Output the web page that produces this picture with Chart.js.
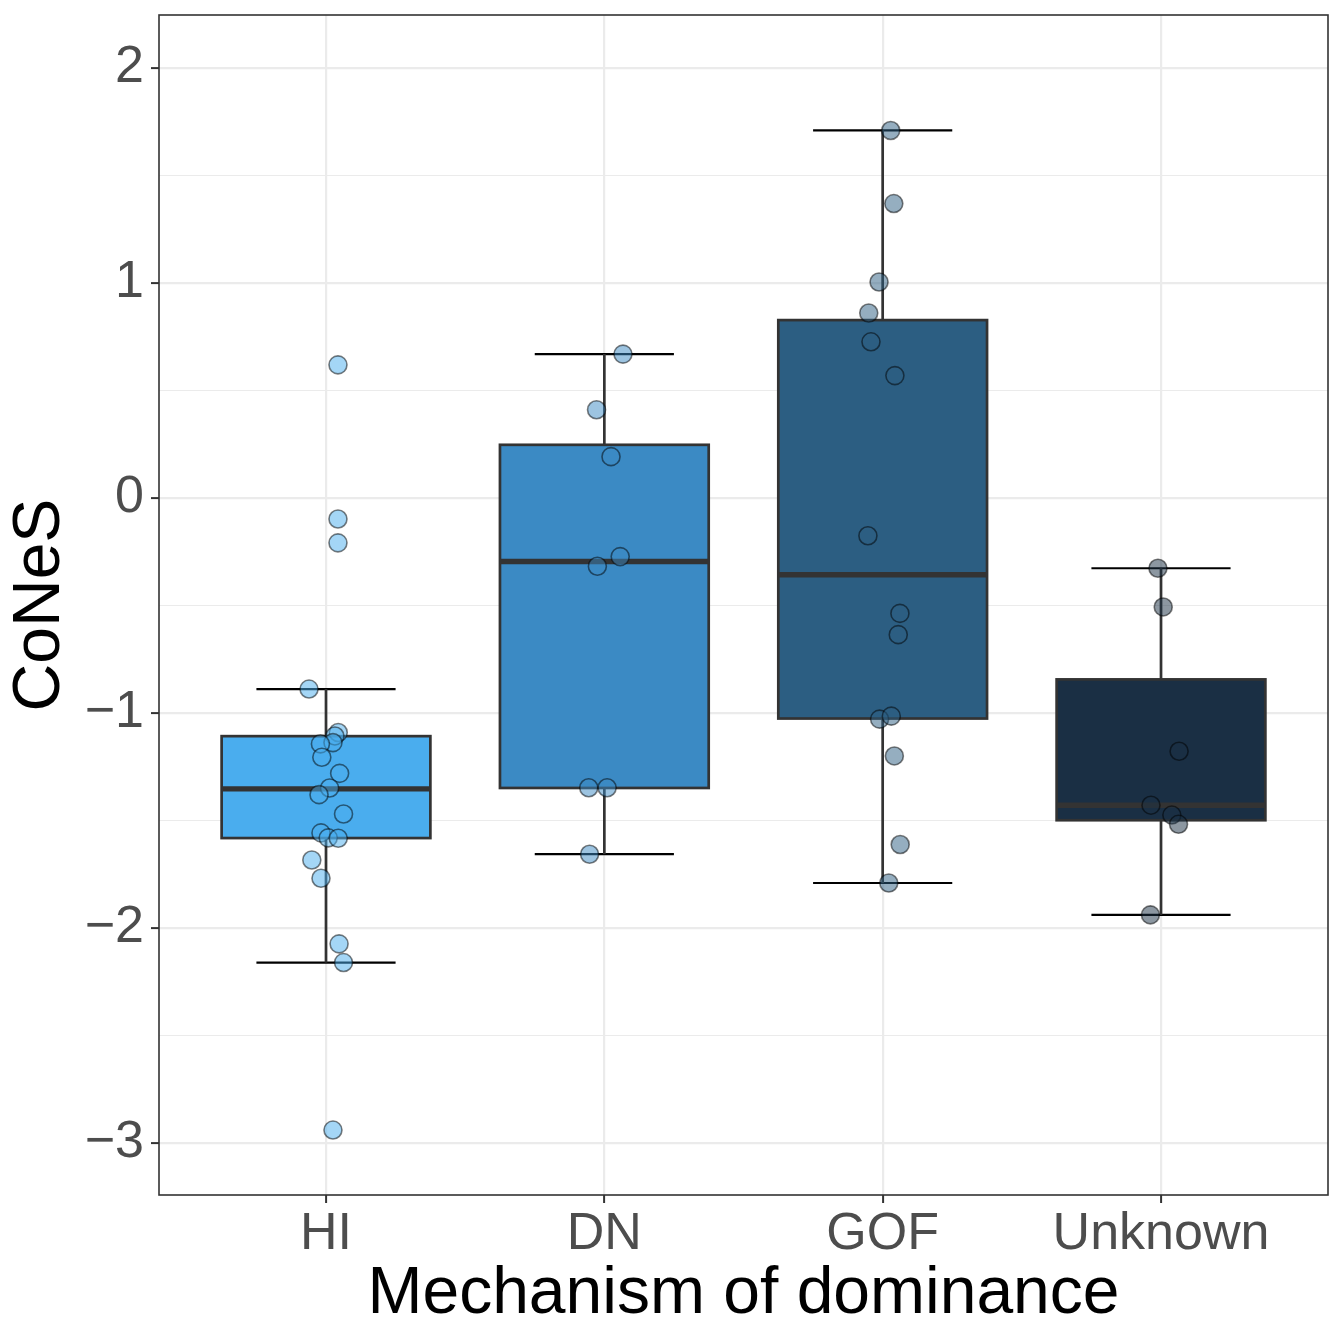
<!DOCTYPE html>
<html lang="en">
<head>
<meta charset="UTF-8">
<title>CoNeS by mechanism of dominance</title>
<script src="https://cdn.jsdelivr.net/npm/chart.js@4.4.1/dist/chart.umd.min.js"></script>
<style>
  html, body { margin: 0; padding: 0; background: #ffffff; }
  #wrap { width: 1333px; height: 1325px; position: relative; }
</style>
</head>
<body>
<div id="wrap"><canvas id="cones" width="1333" height="1325"></canvas></div>
<script>
// groups
const categories = ['HI', 'DN', 'GOF', 'Unknown'];
const boxColors = ['#4AADEE', '#3B8AC4', '#2C5E82', '#1A2F44'];
const pointColors = ['rgba(74,173,238,0.5)', 'rgba(59,138,196,0.5)', 'rgba(44,94,130,0.5)', 'rgba(26,47,68,0.5)'];

// box statistics
const whiskerHigh = [-0.889, 0.669, 1.709, -0.327];
const q3 = [-1.108, 0.247, 0.827, -0.844];
const median = [-1.353, -0.296, -0.357, -1.429];
const q1 = [-1.582, -1.349, -1.026, -1.499];
const whiskerLow = [-2.161, -1.657, -1.791, -1.939];

// jittered observations: value + horizontal jitter in category units
const hiValues = [0.619, -0.098, -0.209, -0.889, -1.091, -1.107, -1.138, -1.144, -1.206, -1.281, -1.349,
                  -1.380, -1.470, -1.558, -1.581, -1.583, -1.684, -1.769, -2.074, -2.161, -2.940];
const hiJitter = [0.043, 0.043, 0.043, -0.061, 0.044, 0.032, 0.025, -0.020, -0.015, 0.049, 0.013,
                  -0.025, 0.063, -0.018, 0.008, 0.044, -0.051, -0.018, 0.047, 0.063, 0.025];
const dnValues = [0.669, 0.410, 0.192, -0.273, -0.318, -1.348, -1.348, -1.657];
const dnJitter = [0.067, -0.028, 0.024, 0.057, -0.025, -0.056, 0.010, -0.053];
const gofValues = [1.709, 1.369, 1.004, 0.860, 0.726, 0.569, -0.176, -0.537, -0.636, -1.029, -1.015, -1.200, -1.612, -1.791];
const gofJitter = [0.029, 0.040, -0.013, -0.050, -0.042, 0.044, -0.053, 0.062, 0.056, -0.011, 0.031, 0.042, 0.063, 0.022];
const unkValues = [-0.327, -0.507, -1.178, -1.429, -1.475, -1.518, -1.939];
const unkJitter = [-0.011, 0.008, 0.065, -0.036, 0.039, 0.063, -0.038];

const groupValues = [hiValues, dnValues, gofValues, unkValues];
const groupJitter = [hiJitter, dnJitter, gofJitter, unkJitter];

// axes
const yMajorTicks = [-3, -2, -1, 0, 1, 2];
const yMinorTicks = [-2.5, -1.5, -0.5, 0.5, 1.5];
const yMin = -3.242, yMax = 2.246;
const xMin = 0.4, xMax = 4.6;

const FONT = '"Liberation Sans", Arial, Helvetica, sans-serif';

function line(ctx, x1, y1, x2, y2) {
    ctx.beginPath();
    ctx.moveTo(x1, y1);
    ctx.lineTo(x2, y2);
    ctx.stroke();
}

const boxPlugin = {
    id: 'boxes',
    beforeDatasetsDraw(chart) {
        const { ctx, scales: { x, y } } = chart;
        ctx.save();
        categories.forEach((c, i) => {
            const cx = x.getPixelForValue(i + 1);
            const half = x.getPixelForValue(i + 1.375) - cx;
            const cap = x.getPixelForValue(i + 1.25) - cx;
            const yHi = y.getPixelForValue(whiskerHigh[i]);
            const yQ3 = y.getPixelForValue(q3[i]);
            const yMed = y.getPixelForValue(median[i]);
            const yQ1 = y.getPixelForValue(q1[i]);
            const yLo = y.getPixelForValue(whiskerLow[i]);

            // error bar caps
            ctx.strokeStyle = '#000000';
            ctx.lineWidth = 2.2;
            line(ctx, cx - cap, yHi, cx + cap, yHi);
            line(ctx, cx - cap, yLo, cx + cap, yLo);

            // whiskers
            ctx.strokeStyle = '#333333';
            ctx.lineWidth = 2.7;
            line(ctx, cx, yHi, cx, yQ3);
            line(ctx, cx, yQ1, cx, yLo);

            // box
            ctx.fillStyle = boxColors[i];
            ctx.fillRect(cx - half, yQ3, half * 2, yQ1 - yQ3);
            ctx.strokeRect(cx - half, yQ3, half * 2, yQ1 - yQ3);

            // median
            ctx.lineWidth = 5.4;
            line(ctx, cx - half, yMed, cx + half, yMed);
        });
        ctx.restore();
    },
    afterDatasetsDraw(chart) {
        const { ctx, chartArea: a } = chart;
        ctx.save();
        ctx.strokeStyle = '#333333';
        ctx.lineWidth = 1.6;
        ctx.strokeRect(a.left, a.top, a.right - a.left, a.bottom - a.top);
        ctx.restore();
    }
};

const datasets = categories.map((c, i) => ({
    label: c,
    data: groupValues[i].map((v, k) => ({ x: i + 1 + groupJitter[i][k], y: v })),
    pointRadius: 9,
    pointBorderWidth: 1.6,
    pointBackgroundColor: pointColors[i],
    pointBorderColor: 'rgba(0,0,0,0.5)',
    showLine: false
}));

new Chart(document.getElementById('cones'), {
    type: 'scatter',
    data: { datasets },
    plugins: [boxPlugin],
    options: {
        responsive: false,
        devicePixelRatio: 1,
        animation: false,
        layout: { autoPadding: false, padding: { left: 0, top: 15, right: 5, bottom: 0 } },
        plugins: { legend: { display: false }, tooltip: { enabled: false } },
        scales: {
            x: {
                type: 'linear',
                min: xMin,
                max: xMax,
                afterBuildTicks: s => { s.ticks = categories.map((c, i) => ({ value: i + 1 })); },
                afterFit: s => { s.height = 130; s.paddingLeft = 0; s.paddingRight = 0; },
                border: { display: false },
                grid: {
                    color: '#EBEBEB',
                    lineWidth: 2.2,
                    tickLength: 8,
                    tickColor: '#333333',
                    tickWidth: 2
                },
                ticks: {
                    autoSkip: false,
                    maxRotation: 0,
                    padding: 0,
                    color: '#4D4D4D',
                    font: { family: FONT, size: 52 },
                    callback: v => categories[Math.round(v) - 1]
                },
                title: {
                    display: true,
                    text: 'Mechanism of dominance',
                    color: '#000000',
                    font: { family: FONT, size: 66, lineHeight: 0.92 },
                    padding: { top: 0, bottom: 0 }
                }
            },
            y: {
                type: 'linear',
                min: yMin,
                max: yMax,
                afterBuildTicks: s => {
                    s.ticks = yMajorTicks.concat(yMinorTicks).sort((a, b) => a - b).map(v => ({ value: v }));
                },
                afterFit: s => { s.width = 159; s.paddingTop = 0; s.paddingBottom = 0; },
                border: { display: false },
                grid: {
                    color: '#EBEBEB',
                    lineWidth: ctx => (ctx.tick && yMajorTicks.includes(ctx.tick.value)) ? 2.2 : 1.1,
                    tickLength: 8,
                    tickColor: ctx => (ctx.tick && yMajorTicks.includes(ctx.tick.value)) ? '#333333' : 'rgba(0,0,0,0)',
                    tickWidth: 2
                },
                ticks: {
                    autoSkip: false,
                    padding: 7,
                    color: '#4D4D4D',
                    font: { family: FONT, size: 52 },
                    callback: v => yMajorTicks.includes(v) ? (v < 0 ? '\u2212' + Math.abs(v) : String(v)) : ''
                },
                title: {
                    display: true,
                    text: 'CoNeS',
                    color: '#000000',
                    font: { family: FONT, size: 66, lineHeight: 1 },
                    padding: { top: 7.5, bottom: 0 }
                }
            }
        }
    }
});
</script>
</body>
</html>
